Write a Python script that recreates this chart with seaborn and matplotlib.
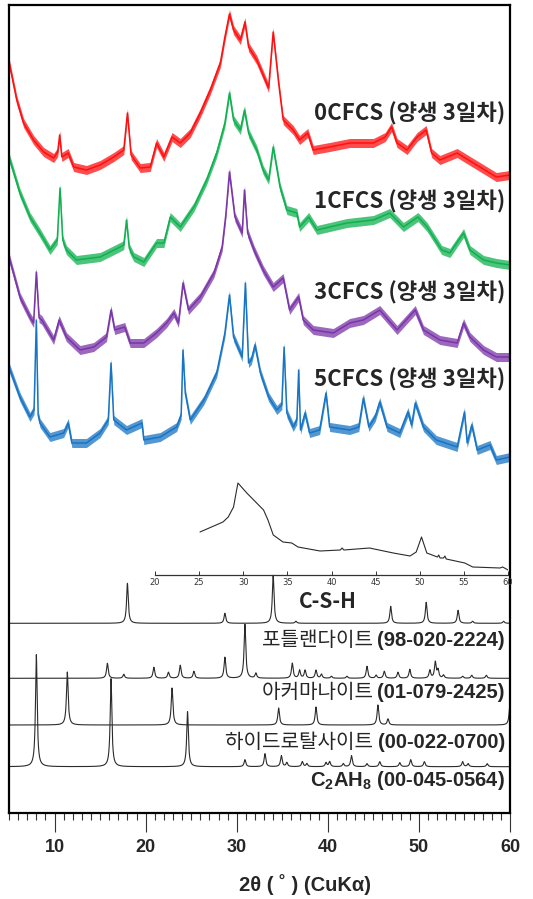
import numpy as np
import pandas as pd
import matplotlib
matplotlib.use("Agg")
import matplotlib.pyplot as plt
import seaborn as sns

# ---- measured XRD patterns (2θ in degrees, stacked intensity in a.u.) ----
cfcs0_tt = [5.0, 5.85, 6.6, 7.7, 8.8, 9.9, 10.35, 10.56, 10.8, 11.5, 12.1, 13.5, 15.0, 16.5, 17.6, 18.0, 18.4,
            19.4, 20.5, 21.2, 22.0, 22.9, 23.8, 24.9, 26.0, 27.1, 28.2, 28.7, 29.2, 29.65, 30.4, 30.9, 31.3,
            32.2, 32.9, 33.5, 34.0, 34.6, 35.1, 36.2, 36.9, 37.8, 38.4, 40.2, 42.4, 45.0, 46.3, 47.0, 47.6,
            48.7, 49.8, 50.8, 51.4, 52.3, 54.2, 54.9, 56.7, 58.5, 60.0]
cfcs0_i = [751, 713, 690, 673, 661, 655, 661, 678, 656, 660, 646, 643, 648, 656, 663, 700, 658,
           645, 646, 670, 656, 676, 670, 680, 700, 723, 750, 776, 799, 783, 773, 791, 766,
           753, 738, 725, 781, 730, 693, 683, 673, 680, 663, 666, 670, 670, 676, 686, 670,
           663, 676, 683, 660, 653, 660, 656, 646, 636, 638]

cfcs1_tt = [5.0, 6.2, 7.3, 8.4, 9.5, 10.3, 10.6, 10.9, 11.3, 12.4, 15.0, 17.2, 17.6, 17.9, 18.2, 18.7,
            19.8, 21.2, 22.0, 22.7, 23.8, 25.3, 26.7, 27.8, 28.7, 29.2, 29.65, 30.4, 30.85, 31.3, 32.2,
            32.9, 33.5, 34.0, 34.75, 35.5, 36.6, 36.9, 37.9, 38.8, 42.1, 45.0, 46.8, 48.3, 49.9, 50.9,
            52.5, 53.4, 54.9, 55.6, 57.1, 58.5, 60.0]
cfcs1_i = [656, 620, 596, 580, 563, 573, 625, 573, 563, 553, 556, 566, 568, 593, 565, 556,
           551, 570, 570, 596, 586, 606, 633, 660, 690, 720, 693, 683, 703, 680, 663,
           643, 633, 666, 626, 603, 600, 586, 596, 583, 590, 593, 600, 586, 596, 586,
           563, 560, 580, 563, 553, 550, 548]

cfcs3_tt = [5.0, 6.2, 7.3, 7.7, 8.0, 8.3, 8.6, 9.9, 10.5, 11.3, 12.8, 14.3, 15.7, 16.2, 16.6, 17.7,
            18.3, 19.8, 21.2, 22.3, 23.1, 23.6, 24.1, 24.7, 26.0, 27.5, 28.4, 28.8, 29.2, 29.8, 30.6,
            30.85, 31.2, 31.9, 32.9, 34.0, 35.1, 35.8, 36.8, 37.3, 38.4, 40.6, 42.4, 43.9, 45.7, 47.6,
            49.6, 50.5, 52.3, 54.2, 54.9, 55.6, 57.1, 58.5, 60.0]
cfcs3_i = [556, 516, 496, 490, 541, 495, 493, 473, 493, 476, 463, 466, 476, 503, 483, 486,
           470, 470, 480, 490, 500, 490, 530, 503, 516, 540, 566, 598, 641, 596, 580,
           623, 580, 563, 543, 526, 535, 503, 516, 493, 483, 480, 490, 493, 503, 483,
           503, 483, 473, 470, 490, 476, 463, 456, 456]

cfcs5_tt = [5.0, 6.2, 7.3, 7.75, 8.0, 8.2, 8.4, 9.5, 11.0, 11.5, 11.9, 13.5, 15.0, 15.9, 16.2, 16.5,
            17.9, 19.6, 19.8, 21.6, 23.4, 23.9, 24.1, 24.35, 24.9, 26.4, 27.8, 28.7, 29.2, 29.65, 30.6,
            30.95, 31.3, 31.6, 32.0, 32.6, 33.5, 34.4, 34.95, 35.2, 35.5, 36.2, 36.6, 36.8, 37.0, 37.5,
            38.0, 39.1, 39.8, 40.2, 42.4, 43.4, 43.9, 44.5, 45.2, 45.7, 46.5, 47.9, 48.8, 49.2, 49.6,
            50.5, 51.9, 54.2, 55.0, 55.3, 55.8, 56.4, 57.8, 58.5, 60.0]
cfcs5_i = [446, 416, 396, 403, 493, 398, 390, 376, 380, 390, 370, 370, 380, 393, 450, 393,
           383, 390, 373, 376, 386, 398, 463, 420, 393, 413, 440, 480, 518, 476, 456,
           530, 450, 453, 468, 440, 416, 403, 408, 466, 400, 386, 393, 443, 383, 400,
           380, 383, 420, 386, 383, 386, 415, 386, 396, 411, 386, 380, 401, 388, 410,
           386, 373, 366, 401, 370, 388, 363, 368, 353, 356]

sample_names = ["0CFCS (양생 3일차)", "1CFCS (양생 3일차)", "3CFCS (양생 3일차)", "5CFCS (양생 3일차)"]
sample_colors = ["#FF1010", "#10B050", "#7A35A8", "#1874C4"]

# ---- C-S-H reference trace (inset, 2θ 20-60) ----
csh_tt = [25.1, 27.7, 28.3, 28.9, 29.25, 29.4, 30.4, 32.3, 32.8, 33.4, 34.5, 35.5, 36.2, 38.7, 41.0, 41.2,
          41.4, 44.3, 47.0, 48.9, 49.6, 50.2, 50.8, 52.0, 52.15, 52.3, 52.7, 52.85, 53.0, 55.1, 56.0,
          59.1, 59.4, 60.0]
csh_i = [43, 53, 58, 68, 85, 92, 82, 65, 55, 40, 33, 32, 28, 24, 25, 27, 25, 27, 22, 19, 23, 38, 22,
         18, 20, 17, 17, 19, 16, 12, 8, 7, 8, 5]

# ---- database reference patterns: peak positions (2θ) and heights ----
portlandite_pos = [18.0, 28.7, 34.0, 36.5, 46.9, 50.8, 54.3, 55.9, 59.3]
portlandite_h = [40, 10, 48, 2, 17, 21, 13, 2, 2]

akermanite_pos = [15.8, 17.6, 20.9, 22.5, 23.8, 25.3, 28.7, 30.9, 32.1, 36.1, 36.9, 37.5, 38.7, 39.3,
                  40.4, 42.1, 44.3, 45.3, 46.2, 47.7, 49.0, 51.2, 51.8, 52.1, 52.7, 54.8, 55.8, 57.4]
akermanite_h = [15, 4, 11, 6, 13, 7, 21, 54, 5, 15, 8, 8, 8, 4,
                2, 2, 12, 3, 7, 6, 9, 8, 16, 8, 3, 2, 3, 3]

hydrotalcite_pos = [11.4, 22.9, 34.6, 38.7, 45.5, 46.6, 60.0]
hydrotalcite_h = [53, 37, 17, 18, 20, 6, 22]

c2ah8_pos = [8.0, 16.2, 24.6, 30.9, 33.1, 34.9, 35.5, 37.2, 37.7, 39.8, 40.2, 41.7, 42.6, 44.3,
             45.7, 47.9, 49.1, 50.6, 54.8, 55.4, 57.5]
c2ah8_h = [112, 88, 55, 7, 13, 11, 4, 5, 3, 4, 5, 3, 11, 3,
           5, 4, 7, 5, 5, 3, 3]

ref_names = ["포틀랜다이트 ", "아커마나이트 ", "하이드로탈사이트 ", None]
ref_codes = ["(98-020-2224)", "(01-079-2425)", "(00-022-0700)", r"$\mathbf{C_2AH_8}$ (00-045-0564)"]

# ---- style ----
sns.set_theme(style="white")
plt.rcParams["font.family"] = ["Liberation Sans", "Noto Sans CJK KR", "DejaVu Sans"]
plt.rcParams["mathtext.fontset"] = "custom"
plt.rcParams["mathtext.bf"] = "Liberation Sans:bold"
plt.rcParams["mathtext.rm"] = "Liberation Sans"

W, H = 533, 899
fig = plt.figure(figsize=(W / 100, H / 100), dpi=100)

def fx(px):
    return px / W

def fy(py):
    return 1 - py / H

ax = fig.add_axes([fx(9), fy(813), fx(510) - fx(9), fy(5) - fy(813)])
ax.set_xlim(5, 60)
ax.set_ylim(0, 808)

# measured patterns: a thin trace inside a band showing the counting-noise spread
series = [(cfcs0_tt, cfcs0_i), (cfcs1_tt, cfcs1_i), (cfcs3_tt, cfcs3_i), (cfcs5_tt, cfcs5_i)]
for (tt, inten), name, col in zip(series, sample_names, sample_colors):
    df = pd.DataFrame({"tt": tt, "I": inten})
    ax.fill_between(df["tt"], df["I"] - 4.5, df["I"] + 4.5, color=col, alpha=0.75, lw=0)
    sns.lineplot(data=df, x="tt", y="I", ax=ax, color=col, lw=1.1, estimator=None, sort=False)

# reference patterns drawn as Lorentzian profiles on their baselines
grid = np.linspace(5, 60, 5501)
hwhm = 0.11
ref_sets = [(portlandite_pos, portlandite_h, 189.7), (akermanite_pos, akermanite_h, 134.7),
            (hydrotalcite_pos, hydrotalcite_h, 88.0), (c2ah8_pos, c2ah8_h, 46.3)]
for pos, hts, base in ref_sets:
    prof = np.full_like(grid, base)
    for p, h in zip(pos, hts):
        prof += h / (1 + ((grid - p) / hwhm) ** 2)
    sns.lineplot(x=grid, y=prof, ax=ax, color="#2b2b2b", lw=0.8, estimator=None, sort=False)

# frame and ticks
for s in ax.spines.values():
    s.set_linewidth(1.6)
    s.set_color("black")
ax.set_yticks([])
ax.set_xticks(range(10, 61, 10))
ax.set_xticks(range(5, 61, 1), minor=True)
ax.tick_params(axis="x", which="major", direction="out", length=14, width=0.8, color="#333333",
               pad=5, labelsize=13, bottom=True)
ax.tick_params(axis="x", which="minor", direction="out", length=5, width=0.8, color="#333333", bottom=True)
for lab in ax.get_xticklabels():
    lab.set_fontweight("bold")
ax.set_xlabel("")
ax.set_ylabel("")

# sample labels
lab_x = (505 - 9) / 501
for name, ypx in zip(sample_names, [114, 202, 293, 380]):
    ax.text(lab_x, 813 - ypx, name, transform=ax.get_yaxis_transform(), ha="right", va="center",
            fontsize=16, fontweight="bold", family=["Noto Sans CJK KR", "DejaVu Sans"])

ax.text(5 + (327 - 9) / 9.1, 813 - 601, "C-S-H", ha="center", va="center", fontsize=15,
        fontweight="bold", family=["Noto Sans CJK KR", "DejaVu Sans"])

for name, code, ypx in zip(ref_names, ref_codes, [640, 692, 742, 781]):
    t = ax.text(lab_x, 813 - ypx, code, transform=ax.get_yaxis_transform(), ha="right", va="center",
                fontsize=14.5, fontweight="bold", family=["Liberation Sans", "DejaVu Sans"])
    if name:
        ax.annotate(name, xy=(0, 0.5), xycoords=t, ha="right", va="center", fontsize=14.5,
                    family=["Noto Sans CJK KR", "DejaVu Sans"])

# x axis title
fig.text(fx(305), fy(885), "2θ ( ˚ ) (CuKα)", ha="center", va="center", fontsize=14.5,
         fontweight="bold", family=["Liberation Sans", "DejaVu Sans"])

# inset with the C-S-H trace
ins = fig.add_axes([fx(155), fy(575), fx(508) - fx(155), fy(475) - fy(575)])
ins.patch.set_alpha(0)
ins.set_xlim(20, 60)
ins.set_ylim(0, 100)
sns.lineplot(x=csh_tt, y=csh_i, ax=ins, color="#2b2b2b", lw=0.8, estimator=None, sort=False)
for k in ["top", "left", "right"]:
    ins.spines[k].set_visible(False)
ins.spines["bottom"].set_linewidth(0.9)
ins.spines["bottom"].set_color("#333333")
ins.set_yticks([])
ins.set_xticks(range(20, 61, 5))
ins.tick_params(axis="x", direction="in", length=3, width=0.7, color="#333333", labelsize=6,
                pad=2, labelcolor="#333333", bottom=True)
for lab in ins.get_xticklabels():
    lab.set_family(["DejaVu Sans"])
ins.set_xlabel("")
ins.set_ylabel("")

fig.savefig("out.png", dpi=100)
